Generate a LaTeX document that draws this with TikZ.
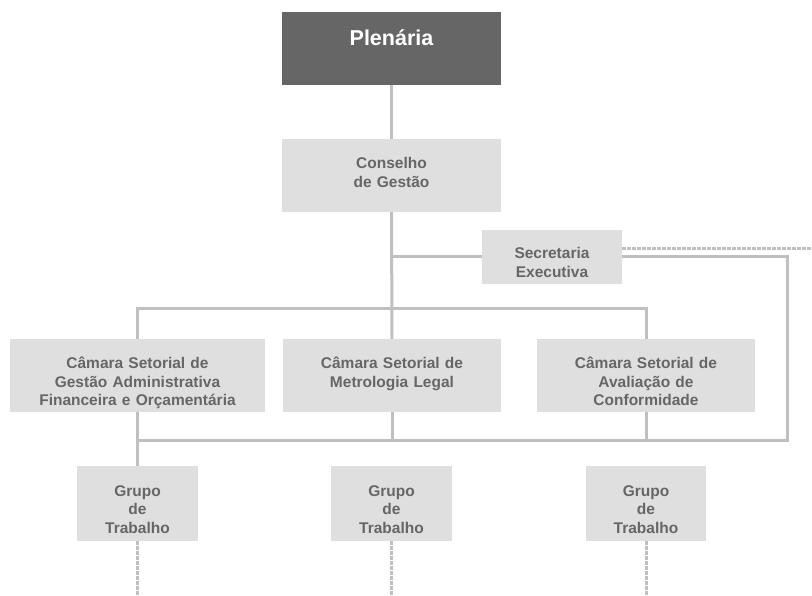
\documentclass[tikz,border=0pt]{standalone}
\usepackage{xcolor}
\usepackage{fontspec}
\setmainfont{Liberation Sans}
\usepackage{tikz}
\usetikzlibrary{shapes.geometric, arrows}
\definecolor{grisfonce}{HTML}{666666}
\definecolor{grisclair}{HTML}{DFDFDF}
\definecolor{grislien}{HTML}{C0C0C0}
\tikzstyle{boite} = [rectangle, 
fill=grisclair, 
text=grisfonce, 
align=center, 
font=\fontsize{15.5}{18.5}\selectfont\bfseries, 
minimum height=73pt, 
text height=30pt, 
text depth=43pt, 
inner sep=0pt]
\tikzstyle{lien} = [line width=3pt, draw=grislien]
\tikzstyle{pointille} = [line width=3pt, draw=grislien, dash pattern=on 3.5pt off 1.5pt]

\begin{document}
\begin{tikzpicture}[x=1pt, y=-1pt]
\useasboundingbox (0,0) rectangle (812,596);

% Plénière et conseil (en haut)
\node[boite, fill=grisfonce, text=white, font=\fontsize{21.5}{24}\selectfont\bfseries, text width=219pt, text height=34pt, text depth=39pt] (plenaria) at (391.5,48.5) {Plenária};
\node[boite, text width=219pt] (conselho) at (391.5,175.5) {Conselho\\de Gestão};
\node[boite, text width=140pt, minimum height=54pt, text height=29pt, text depth=25pt] (secretaria) at (552,257) {Secretaria\\Executiva};

% Chambres sectorielles
\node[boite, text width=255pt] (camara1) at (137.5,375.5) {Câmara Setorial de\\Gestão Administrativa\\Financeira e Orçamentária};
\node[boite, text width=218pt] (camara2) at (392,375.5) {Câmara Setorial de\\Metrologia Legal};
\node[boite, text width=218pt] (camara3) at (646,375.5) {Câmara Setorial de\\Avaliação de\\Conformidade};

% Groupes de travail
\node[boite, text width=121pt, minimum height=75pt, text depth=45pt] (grupo1) at (137.5,503.5) {Grupo\\de\\Trabalho};
\node[boite, text width=121pt, minimum height=75pt, text depth=45pt] (grupo2) at (391.5,503.5) {Grupo\\de\\Trabalho};
\node[boite, text width=120pt, minimum height=75pt, text depth=45pt] (grupo3) at (646,503.5) {Grupo\\de\\Trabalho};

% Barres horizontales
\coordinate (barrehaut) at (0,309);
\coordinate (droite) at (787,440);

% Liens
\draw[lien] (plenaria) -- (conselho);
\draw[lien] (conselho) -- (camara2);
\draw[lien] (secretaria.west) -- (secretaria.west -| conselho.south);
\draw[lien] (camara1.north) |- (barrehaut -| camara3.north) -- (camara3.north);
\draw[lien] (camara1) -- (grupo1);
\draw[lien] (camara2.south) -- (camara2.south |- droite);
\draw[lien] (camara3.south) -- (camara3.south |- droite);
\draw[lien] (camara1.south |- droite) -- (droite) |- (secretaria.east);

% Pointillés
\draw[pointille] ([yshift=8.5pt]secretaria.east) -- ++(190,0);
\draw[pointille] (grupo1.south) -- ++(0,55);
\draw[pointille] (grupo2.south) -- ++(0,55);
\draw[pointille] (grupo3.south) -- ++(0,55);

\end{tikzpicture}
\end{document}
